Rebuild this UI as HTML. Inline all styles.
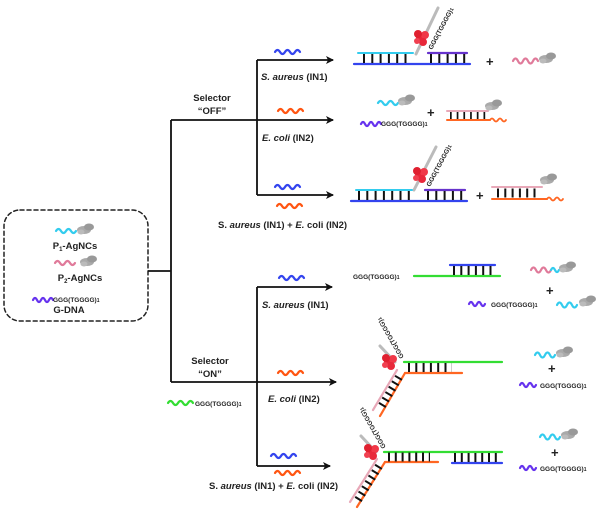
<!DOCTYPE html>
<html><head><meta charset="utf-8"><style>
body{margin:0;background:#fff}
svg{display:block}
text{font-family:"Liberation Sans",sans-serif;font-weight:bold;fill:#222}
.s{font-size:9.5px}
.t{font-size:6.5px}
</style></head><body>
<svg width="600" height="515" viewBox="0 0 600 515" xmlns="http://www.w3.org/2000/svg">
<defs>
<marker id="ar" markerWidth="8" markerHeight="8" refX="7" refY="4" orient="auto" markerUnits="userSpaceOnUse"><path d="M0,0 L8,4 L0,8 L2,4 Z" fill="#111"/></marker>
<g id="gb"><ellipse cx="0" cy="0" rx="7" ry="4" fill="#aaa"/><ellipse cx="5" cy="-3" rx="5" ry="3.5" fill="#999"/><ellipse cx="-3" cy="2" rx="3.5" ry="2.5" fill="#bbb"/></g>
<g id="rb"><circle cx="0" cy="0" r="5" fill="#e8283a"/><circle cx="4" cy="-3" r="4" fill="#f03848"/><circle cx="-3" cy="-4" r="4" fill="#e02030"/><circle cx="2" cy="4" r="4" fill="#e8283a"/><circle cx="-4" cy="3" r="3" fill="#f04050"/></g>
</defs>
<g fill="none" stroke-linecap="round">
<rect x="4" y="210" width="144" height="111" rx="16" stroke="#222" stroke-width="1.5" stroke-dasharray="4 3"/>
<g stroke="#111" stroke-width="1.8" stroke-linecap="butt">
<path d="M148 271 H171 M171 120 V382 M171 120 H257 M257 60 V195 M171 382 H257 M257 287 V466"/>
<line x1="257" y1="60" x2="333" y2="60" marker-end="url(#ar)"/>
<line x1="257" y1="120" x2="333" y2="120" marker-end="url(#ar)"/>
<line x1="257" y1="195" x2="333" y2="195" marker-end="url(#ar)"/>
<line x1="257" y1="287" x2="332" y2="287" marker-end="url(#ar)"/>
<line x1="257" y1="382" x2="336" y2="382" marker-end="url(#ar)"/>
<line x1="257" y1="466" x2="330" y2="466" marker-end="url(#ar)"/>
</g>
<g stroke-width="2.2">
<path d="M275 52 q2.5 -4 5 0 t5 0 t5 0 t5 0 t5 0" stroke="#3344ee"/>
<path d="M278 111 q2.5 -4 5 0 t5 0 t5 0 t5 0 t5 0" stroke="#ff5511"/>
<path d="M275 187 q2.5 -4 5 0 t5 0 t5 0 t5 0 t5 0" stroke="#3344ee"/>
<path d="M277 206 q2.5 -4 5 0 t5 0 t5 0 t5 0 t5 0" stroke="#ff5511"/>
<path d="M279 278 q2.5 -4 5 0 t5 0 t5 0 t5 0 t5 0" stroke="#3344ee"/>
<path d="M278 373 q2.5 -4 5 0 t5 0 t5 0 t5 0 t5 0" stroke="#ff5511"/>
<path d="M271 456 q2.5 -4 5 0 t5 0 t5 0 t5 0 t5 0" stroke="#3344ee"/>
<path d="M275 473 q2.5 -4 5 0 t5 0 t5 0 t5 0 t5 0" stroke="#ff5511"/>
<path d="M56 231 q2.5 -4 5 0 t5 0 t5 0 t5 0" stroke="#33ccee"/>
<path d="M55 263 q2.5 -4 5 0 t5 0 t5 0 t5 0" stroke="#e07a9a"/>
<path d="M33 300 q2 -4 4 0 t4 0 t4 0 t4 0 t4 0" stroke="#6633ee"/>
<path d="M168 403 q2.5 -4 5 0 t5 0 t5 0 t5 0 t5 0" stroke="#33dd33"/>
</g>
<use href="#gb" x="84" y="230"/><use href="#gb" x="87" y="262"/>
<!-- OFF1 -->
<line x1="416" y1="54" x2="438" y2="8" stroke="#bbb" stroke-width="3"/>
<use href="#rb" x="421" y="38"/>
<line x1="358" y1="53" x2="413" y2="53" stroke="#33ccee" stroke-width="2"/>
<line x1="428" y1="53" x2="467" y2="53" stroke="#6633cc" stroke-width="2.2"/>
<line x1="354" y1="64" x2="470" y2="64" stroke="#3344ee" stroke-width="2.2"/>
<line x1="363" y1="58.5" x2="412" y2="58.5" stroke="#111" stroke-width="9" stroke-dasharray="2 6.3" stroke-linecap="butt"/>
<line x1="430" y1="58.5" x2="467" y2="58.5" stroke="#111" stroke-width="9" stroke-dasharray="2 6.3" stroke-linecap="butt"/>
<path d="M513 61 q2.5 -5 5 0 t5 0 t5 0 t5 0 t5 0" stroke="#e07a9a" stroke-width="2.2"/>
<use href="#gb" x="546" y="59"/>
<!-- OFF2 -->
<path d="M378 103 q2.5 -4 5 0 t5 0 t5 0 t5 0" stroke="#33ccee" stroke-width="2.2"/>
<use href="#gb" x="405" y="101"/>
<path d="M361 124 q2 -4 4 0 t4 0 t4 0 t4 0 t4 0" stroke="#6633ee" stroke-width="2.2"/>
<line x1="447" y1="111" x2="488" y2="111" stroke="#e8a8b8" stroke-width="2"/>
<line x1="447" y1="120" x2="490" y2="120" stroke="#ff6622" stroke-width="2"/>
<path d="M490 120 q2 -3 4 0 t4 0 t4 0 t4 0" stroke="#ff6622" stroke-width="1.8"/>
<line x1="450" y1="115.5" x2="486" y2="115.5" stroke="#111" stroke-width="7" stroke-dasharray="1.7 5" stroke-linecap="butt"/>
<use href="#gb" x="492" y="106"/>
<!-- OFF3 -->
<line x1="414" y1="190" x2="436" y2="147" stroke="#bbb" stroke-width="3"/>
<use href="#rb" x="420" y="175"/>
<line x1="356" y1="190" x2="412" y2="190" stroke="#33ccee" stroke-width="2"/>
<line x1="425" y1="190" x2="465" y2="190" stroke="#6633cc" stroke-width="2.2"/>
<line x1="351" y1="201" x2="467" y2="201" stroke="#3344ee" stroke-width="2.2"/>
<line x1="358" y1="195.5" x2="412" y2="195.5" stroke="#111" stroke-width="9" stroke-dasharray="2 6.3" stroke-linecap="butt"/>
<line x1="427" y1="195.5" x2="465" y2="195.5" stroke="#111" stroke-width="9" stroke-dasharray="2 6.3" stroke-linecap="butt"/>
<line x1="492" y1="187" x2="542" y2="187" stroke="#e8a8b8" stroke-width="2"/>
<line x1="492" y1="199" x2="547" y2="199" stroke="#ff6622" stroke-width="2"/>
<path d="M547 199 q2 -3 4 0 t4 0 t4 0 t4 0" stroke="#ff6622" stroke-width="1.8"/>
<line x1="497" y1="193" x2="540" y2="193" stroke="#111" stroke-width="9" stroke-dasharray="2 5.3" stroke-linecap="butt"/>
<use href="#gb" x="547" y="180"/>
<!-- ON1 -->
<line x1="414" y1="276" x2="500" y2="276" stroke="#33dd33" stroke-width="2.2"/>
<line x1="450" y1="265" x2="495" y2="265" stroke="#3344ee" stroke-width="2.2"/>
<line x1="453" y1="270.5" x2="495" y2="270.5" stroke="#111" stroke-width="9" stroke-dasharray="2 5.3" stroke-linecap="butt"/>
<path d="M531 270 q2.5 -5 5 0 t5 0 t5 0 t5 0" stroke="#e07a9a" stroke-width="2.2"/>
<path d="M551 270 q2 -4 4 0 t4 0" stroke="#33ccee" stroke-width="2.2"/>
<use href="#gb" x="566" y="268"/>
<path d="M469 304 q2 -4 4 0 t4 0 t4 0 t4 0" stroke="#6633ee" stroke-width="2.2"/>
<path d="M557 305 q2.5 -5 5 0 t5 0 t5 0 t5 0" stroke="#33ccee" stroke-width="2.2"/>
<use href="#gb" x="586" y="302"/>
<!-- ON2 -->
<line x1="380" y1="346" x2="395" y2="362" stroke="#bbb" stroke-width="3"/>
<use href="#rb" x="389" y="362"/>
<line x1="404" y1="362" x2="502" y2="362" stroke="#33dd33" stroke-width="2.2"/>
<line x1="405" y1="373" x2="462" y2="373" stroke="#ff6622" stroke-width="2.2"/>
<line x1="405" y1="373" x2="380" y2="416" stroke="#ff6622" stroke-width="2.2"/>
<line x1="397" y1="370" x2="373" y2="410" stroke="#e8a8b8" stroke-width="2.2"/>
<line x1="408" y1="367.5" x2="452" y2="367.5" stroke="#111" stroke-width="9" stroke-dasharray="2 5.3" stroke-linecap="butt"/>
<line x1="399" y1="377" x2="380" y2="409" stroke="#111" stroke-width="8" stroke-dasharray="2 4.3" stroke-linecap="butt"/>
<path d="M535 355 q2.5 -5 5 0 t5 0 t5 0 t5 0" stroke="#33ccee" stroke-width="2.2"/>
<use href="#gb" x="563" y="353"/>
<path d="M520 385 q2 -4 4 0 t4 0 t4 0 t4 0" stroke="#6633ee" stroke-width="2.2"/>
<!-- ON3 -->
<line x1="361" y1="436" x2="376" y2="452" stroke="#bbb" stroke-width="3"/>
<use href="#rb" x="371" y="452"/>
<line x1="384" y1="452" x2="502" y2="452" stroke="#33dd33" stroke-width="2.2"/>
<line x1="385" y1="462" x2="438" y2="462" stroke="#ff6622" stroke-width="2.2"/>
<line x1="452" y1="463" x2="502" y2="463" stroke="#3344ee" stroke-width="2.2"/>
<line x1="385" y1="462" x2="357" y2="507" stroke="#ff6622" stroke-width="2.2"/>
<line x1="377" y1="459" x2="350" y2="502" stroke="#e8a8b8" stroke-width="2.2"/>
<line x1="388" y1="457" x2="430" y2="457" stroke="#111" stroke-width="9" stroke-dasharray="2 4.8" stroke-linecap="butt"/>
<line x1="454" y1="457.5" x2="500" y2="457.5" stroke="#111" stroke-width="9" stroke-dasharray="2 4.8" stroke-linecap="butt"/>
<line x1="379" y1="466" x2="358" y2="500" stroke="#111" stroke-width="8" stroke-dasharray="2 4.3" stroke-linecap="butt"/>
<path d="M540 437 q2.5 -5 5 0 t5 0 t5 0 t5 0" stroke="#33ccee" stroke-width="2.2"/>
<use href="#gb" x="568" y="435"/>
<path d="M520 468 q2 -4 4 0 t4 0 t4 0 t4 0" stroke="#6633ee" stroke-width="2.2"/>
</g>
<text class="s" x="212" y="101" text-anchor="middle">Selector</text>
<text class="s" x="212" y="114" text-anchor="middle">“OFF”</text>
<text class="s" x="210" y="364" text-anchor="middle">Selector</text>
<text class="s" x="210" y="377" text-anchor="middle">“ON”</text>
<text class="s" x="261" y="80"><tspan font-style="italic">S. aureus</tspan> (IN1)</text>
<text class="s" x="262" y="141"><tspan font-style="italic">E. coli</tspan> (IN2)</text>
<text class="s" x="218" y="228">S. <tspan font-style="italic">aureus</tspan> (IN1) + <tspan font-style="italic">E.</tspan> coli (IN2)</text>
<text class="s" x="262" y="308"><tspan font-style="italic">S. aureus</tspan> (IN1)</text>
<text class="s" x="268" y="402"><tspan font-style="italic">E. coli</tspan> (IN2)</text>
<text class="s" x="209" y="489">S. <tspan font-style="italic">aureus</tspan> (IN1) + <tspan font-style="italic">E.</tspan> coli (IN2)</text>
<text class="s" x="75" y="249" text-anchor="middle" font-size="8">P<tspan font-size="6" dy="2">1</tspan><tspan dy="-2">-AgNCs</tspan></text>
<text class="s" x="80" y="281" text-anchor="middle" font-size="8">P<tspan font-size="6" dy="2">2</tspan><tspan dy="-2">-AgNCs</tspan></text>
<text class="t" x="53" y="302">GGG(TGGGG)<tspan font-size="5">1</tspan></text>
<text class="s" x="69" y="313" text-anchor="middle" font-size="8.5">G-DNA</text>
<text class="t" x="195" y="406">GGG(TGGGG)<tspan font-size="5">1</tspan></text>
<text class="t" x="381" y="126">GGG(TGGGG)<tspan font-size="5">1</tspan></text>
<text class="t" x="353" y="279">GGG(TGGGG)<tspan font-size="5">1</tspan></text>
<text class="t" x="491" y="307">GGG(TGGGG)<tspan font-size="5">1</tspan></text>
<text class="t" x="540" y="388">GGG(TGGGG)<tspan font-size="5">1</tspan></text>
<text class="t" x="540" y="471">GGG(TGGGG)<tspan font-size="5">1</tspan></text>
<text class="t" transform="translate(432,50) rotate(-62)">GGG(TGGGG)<tspan font-size="5">1</tspan></text>
<text class="t" transform="translate(430,187) rotate(-62)">GGG(TGGGG)<tspan font-size="5">1</tspan></text>
<text class="t" transform="translate(404,357) rotate(-120)">GGG(TGGGG)<tspan font-size="5">1</tspan></text>
<text class="t" transform="translate(386,447) rotate(-120)">GGG(TGGGG)<tspan font-size="5">1</tspan></text>
<g font-size="13"><text x="486" y="66">+</text><text x="427" y="117">+</text><text x="476" y="200">+</text><text x="546" y="295">+</text><text x="548" y="373">+</text><text x="551" y="457">+</text></g>
</svg>
</body></html>
